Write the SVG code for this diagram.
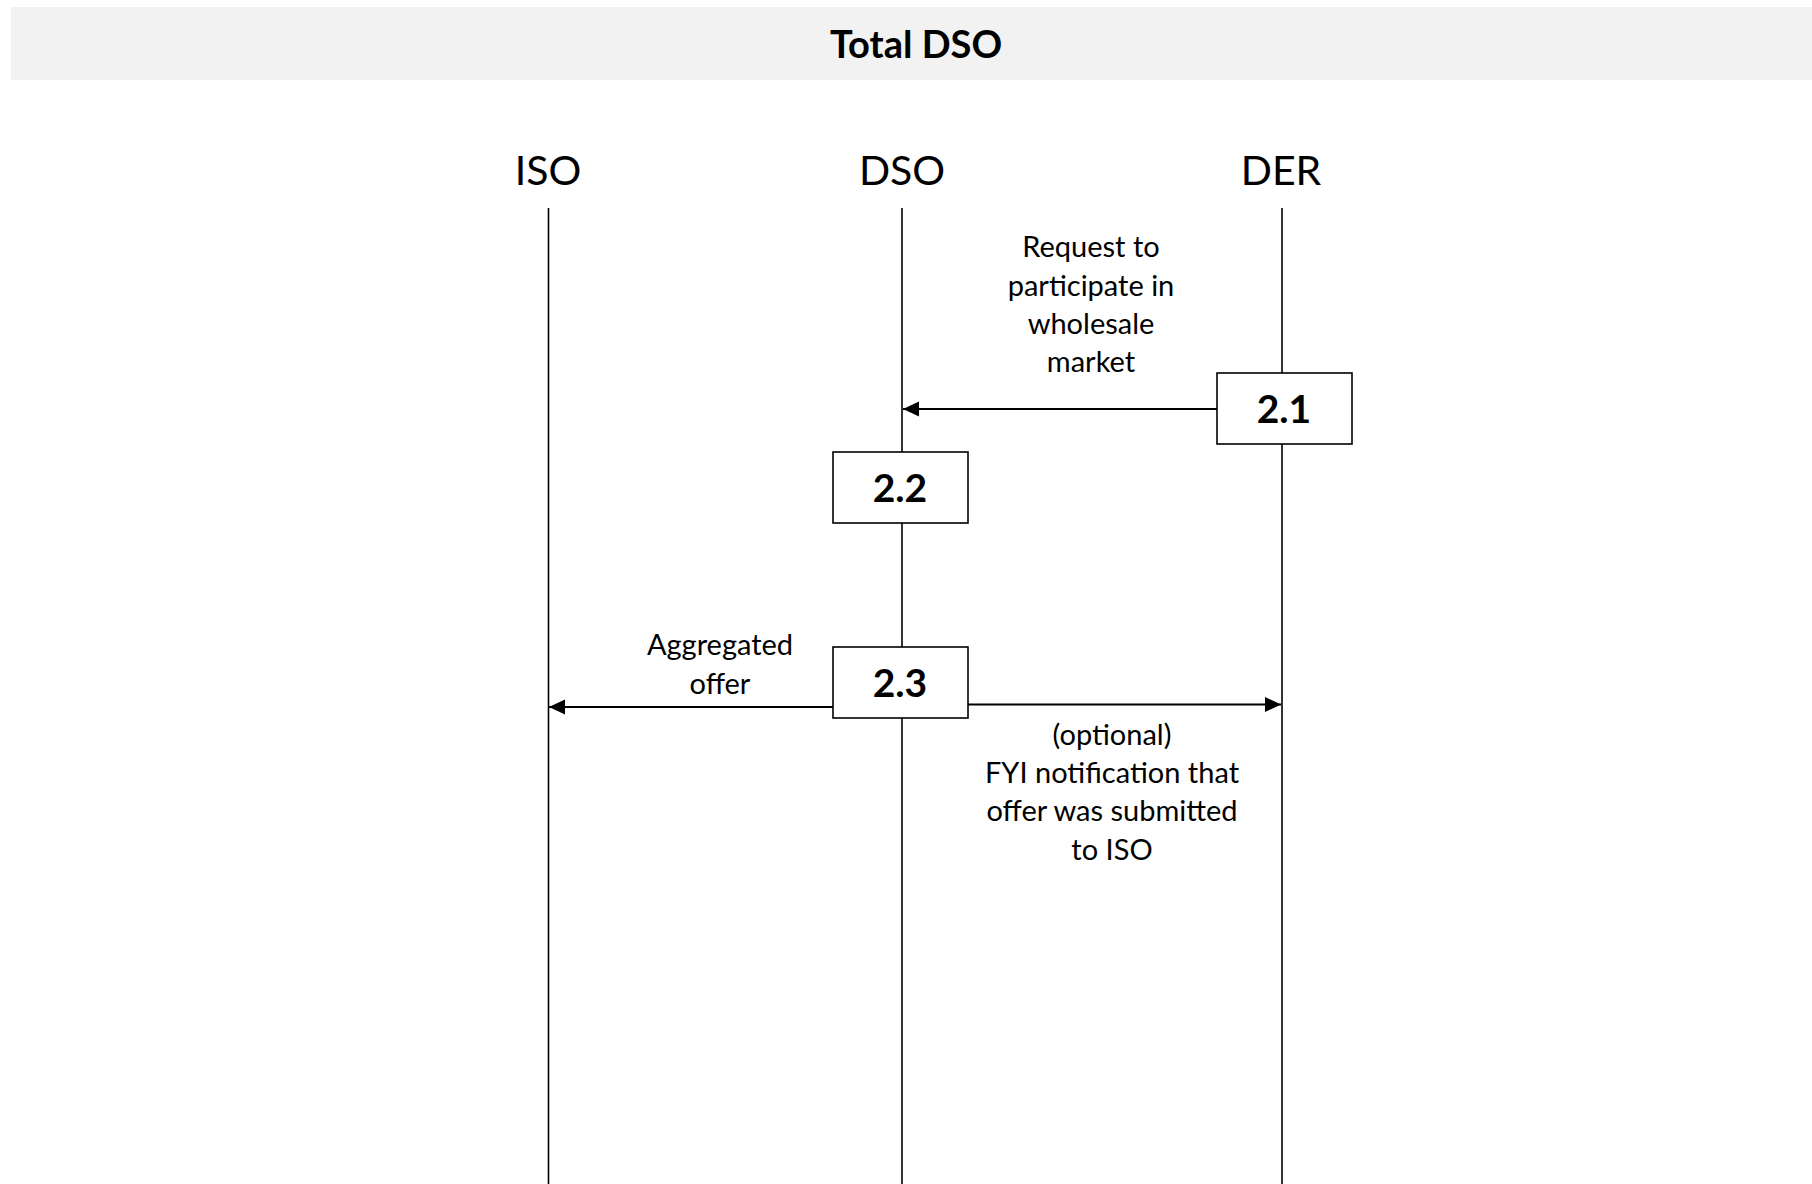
<svg xmlns="http://www.w3.org/2000/svg" width="1812" height="1184" viewBox="0 0 1812 1184">
  <style>
    text { font-family: Lato, "Open Sans", "Liberation Sans", sans-serif; fill: #000; }
    .title { font-size: 38px; font-weight: bold; text-anchor: middle; }
    .actor { font-size: 41px; text-anchor: middle; }
    .label { font-size: 29px; text-anchor: middle; }
    .step { font-size: 39px; font-weight: bold; text-anchor: middle; }
    .lifeline { stroke: #000; stroke-width: 1.6; fill: none; }
    .box { fill: #fff; stroke: #000; stroke-width: 1.6; }
    .msg { stroke: #000; stroke-width: 2.2; fill: none; }
  </style>
  <defs>
    <marker id="arrow" markerUnits="userSpaceOnUse" markerWidth="16" markerHeight="16" viewBox="0 0 16 16" refX="16" refY="8" orient="auto">
      <path d="M0,0.5 L16,8 L0,15.5 Z" fill="#000"/>
    </marker>
  </defs>

  <rect width="1812" height="1184" fill="#fff"/>

  <!-- header band -->
  <g id="header">
    <rect x="11" y="7" width="1801" height="73" fill="#f2f2f2"/>
    <text class="title" x="916" y="58">Total DSO</text>
  </g>

  <!-- participants and lifelines -->
  <g id="iso">
    <text class="actor" x="548" y="185">ISO</text>
    <line class="lifeline" x1="548.5" y1="208" x2="548.5" y2="1184"/>
  </g>
  <g id="dso">
    <text class="actor" x="902" y="185">DSO</text>
    <line class="lifeline" x1="902" y1="208" x2="902" y2="1184"/>
  </g>
  <g id="der">
    <text class="actor" x="1281" y="185">DER</text>
    <line class="lifeline" x1="1282" y1="208" x2="1282" y2="1184"/>
  </g>

  <!-- messages -->
  <g id="connectors">
    <line class="msg" x1="1217" y1="409" x2="903" y2="409" marker-end="url(#arrow)"/>
    <line class="msg" x1="835" y1="707" x2="549" y2="707" marker-end="url(#arrow)"/>
    <line class="msg" x1="967" y1="704.5" x2="1281" y2="704.5" marker-end="url(#arrow)"/>
  </g>

  <!-- message labels -->
  <g id="label-request">
    <text class="label" x="1091" y="257">Request to</text>
    <text class="label" x="1091" y="296">participate in</text>
    <text class="label" x="1091" y="334">wholesale</text>
    <text class="label" x="1091" y="372">market</text>
  </g>
  <g id="label-offer">
    <text class="label" x="720" y="655">Aggregated</text>
    <text class="label" x="720" y="694">offer</text>
  </g>
  <g id="label-fyi">
    <text class="label" x="1112" y="745">(optional)</text>
    <text class="label" x="1112" y="783">FYI notification that</text>
    <text class="label" x="1112" y="821">offer was submitted</text>
    <text class="label" x="1112" y="860">to ISO</text>
  </g>

  <!-- step boxes -->
  <g id="step-2-1">
    <rect class="box" x="1217" y="373" width="135" height="71"/>
    <text class="step" x="1284" y="423">2.1</text>
  </g>
  <g id="step-2-2">
    <rect class="box" x="833" y="452" width="135" height="71"/>
    <text class="step" x="900" y="502">2.2</text>
  </g>
  <g id="step-2-3">
    <rect class="box" x="833" y="647" width="135" height="71"/>
    <text class="step" x="900" y="697">2.3</text>
  </g>
</svg>
